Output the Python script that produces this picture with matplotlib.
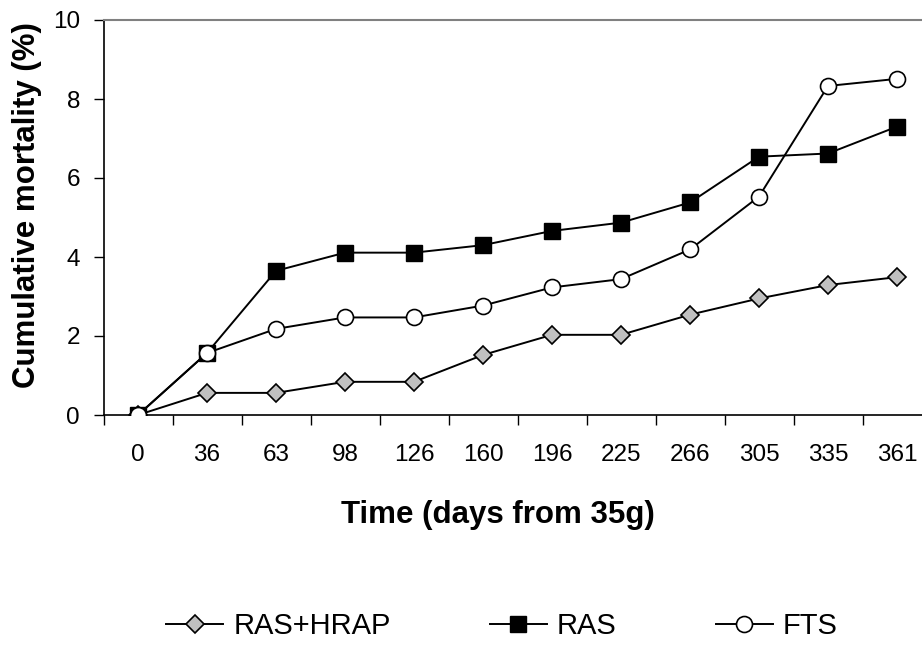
import matplotlib
matplotlib.use('Agg')
import matplotlib.pyplot as plt
import numpy as np

# dados
dias = ['0', '36', '63', '98', '126', '160', '196', '225', '266', '305', '335', '361']
ras_hrap = [0.0, 0.56, 0.56, 0.84, 0.84, 1.52, 2.03, 2.03, 2.54, 2.95, 3.29, 3.49]
ras      = [0.0, 1.57, 3.65, 4.11, 4.11, 4.30, 4.66, 4.87, 5.38, 6.54, 6.62, 7.30]
fts      = [0.0, 1.57, 2.18, 2.47, 2.47, 2.77, 3.23, 3.44, 4.19, 5.53, 8.33, 8.51]

plt.rcParams['font.family'] = ['Liberation Sans', 'DejaVu Sans']

W, H = 922, 645
fig = plt.figure(figsize=(W/100, H/100), dpi=100)
ax = fig.add_axes([103.5/W, 1 - 415/H, 1 - 103.5/W, 395/H])

x = np.arange(len(dias))

ax.plot(x, ras_hrap, color='k', lw=1.4, marker='D', ms=9.5, mfc='#c0c0c0',
        mec='k', mew=1.2, label='RAS+HRAP', zorder=3)
ax.plot(x, ras, color='k', lw=1.4, marker='s', ms=12, mfc='k',
        mec='k', mew=1.0, label='RAS', zorder=3)
ax.plot(x, fts, color='k', lw=1.4, marker='o', ms=11.5, mfc='white',
        mec='k', mew=1.2, label='FTS', zorder=4)

# eixos
ax.set_ylim(0, 10)
ax.set_xlim(-0.5, (W - 138) / 69.0)
ax.set_yticks(np.arange(0, 10.1, 2))
ax.set_xticks(x)
ax.set_xticklabels(dias)
ax.set_xticks(np.arange(-0.5, 11, 1.0), minor=True)
ax.tick_params(axis='x', which='major', length=0, labelsize=17.5, pad=21)
ax.tick_params(axis='x', which='minor', length=7, width=1, direction='out')
ax.tick_params(axis='y', labelsize=17.5, length=7, width=1, direction='out', pad=10)

for s in ['left', 'bottom']:
    ax.spines[s].set_linewidth(1.2)
ax.spines['right'].set_visible(False)
ax.spines['top'].set_color('#808080')
ax.spines['top'].set_linewidth(1.5)

# titulos dos eixos
fig.text(27/W, 1 - 205/H, 'Cumulative mortality (%)', rotation=90,
         fontsize=22.5, fontweight='bold', ha='center', va='center')
fig.text(498/W, 1 - 515/H, 'Time (days from 35g)',
         fontsize=22.5, fontweight='bold', ha='center', va='center')

fig.legend(loc='center', bbox_to_anchor=(502/W, 1 - 626/H), ncol=3,
           frameon=False, fontsize=21, handlelength=1.95, columnspacing=3.4,
           handletextpad=0.35, markerscale=1.0)

plt.savefig('out.png', dpi=100)
